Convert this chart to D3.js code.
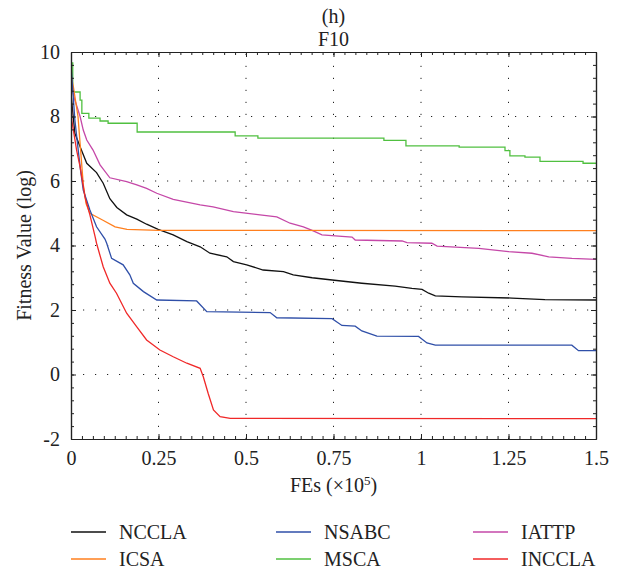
<!DOCTYPE html>
<html><head><meta charset="utf-8">
<script src="https://cdn.jsdelivr.net/npm/d3@7"></script>
<style>
html,body{margin:0;padding:0;background:#fff;}
text{font-family:"Liberation Serif","Times New Roman",serif;fill:#222;}
</style></head>
<body><svg id="chart" width="624" height="573"></svg>
<script>
const seriesNames = ["NCCLA","NSABC","IATTP","ICSA","MSCA","INCCLA"];
const seriesColors = ["#111111","#2f4fa8","#c548a8","#ff7f1e","#50c040","#f02828"];
const xTicks = [0,0.25,0.5,0.75,1,1.25,1.5];
const xTickLabels = ["0","0.25","0.5","0.75","1","1.25","1.5"];
const yTicks = [-2,0,2,4,6,8,10];
const yTickLabels = ["-2","0","2","4","6","8","10"];

const NCCLA = [[0,8.7],[0.011,7.48],[0.026,7.06],[0.045,6.55],[0.073,6.26],[0.092,5.93],[0.111,5.45],[0.131,5.18],[0.159,4.95],[0.188,4.82],[0.216,4.66],[0.249,4.5],[0.292,4.33],[0.331,4.12],[0.369,3.96],[0.397,3.76],[0.445,3.65],[0.464,3.5],[0.502,3.4],[0.549,3.24],[0.607,3.19],[0.635,3.09],[0.689,3.0],[0.746,2.93],[0.831,2.83],[0.926,2.74],[0.974,2.67],[1.003,2.64],[1.022,2.52],[1.041,2.44],[1.117,2.41],[1.26,2.37],[1.354,2.32],[1.5,2.31]];
const NSABC = [[0,9.6],[0.011,7.9],[0.026,6.44],[0.035,5.72],[0.054,5.1],[0.073,4.58],[0.097,4.2],[0.102,4.07],[0.116,3.6],[0.149,3.4],[0.168,3.09],[0.178,2.83],[0.207,2.57],[0.245,2.31],[0.359,2.28],[0.388,1.95],[0.569,1.92],[0.588,1.76],[0.746,1.73],[0.774,1.52],[0.812,1.5],[0.831,1.35],[0.874,1.19],[0.993,1.18],[1.017,0.98],[1.041,0.91],[1.431,0.91],[1.45,0.74],[1.5,0.74]];
const IATTP = [[0,9.0],[0.011,8.51],[0.026,8.0],[0.035,7.58],[0.045,7.27],[0.063,6.96],[0.083,6.5],[0.111,6.1],[0.159,5.98],[0.188,5.88],[0.216,5.77],[0.245,5.62],[0.292,5.43],[0.369,5.26],[0.406,5.2],[0.464,5.05],[0.54,4.95],[0.588,4.89],[0.626,4.69],[0.664,4.58],[0.689,4.47],[0.717,4.33],[0.755,4.3],[0.803,4.26],[0.812,4.17],[0.946,4.14],[0.96,4.09],[1.031,4.07],[1.046,3.98],[1.165,3.91],[1.25,3.81],[1.317,3.76],[1.365,3.65],[1.431,3.6],[1.5,3.57]];
const ICSA = [[0,9.3],[0.007,8.9],[0.02,8.0],[0.035,5.9],[0.043,5.3],[0.054,5.0],[0.09,4.79],[0.126,4.58],[0.16,4.5],[0.25,4.47],[1.5,4.46]];
const MSCA = [[0,9.66],[0.005,8.76],[0.026,8.51],[0.031,8.1],[0.051,7.95],[0.083,7.86],[0.106,7.79],[0.189,7.52],[0.469,7.4],[0.534,7.33],[0.894,7.26],[0.957,7.09],[1.109,7.05],[1.24,6.94],[1.254,6.78],[1.297,6.74],[1.34,6.61],[1.463,6.55],[1.5,6.55]];
const INCCLA = [[0,9.35],[0.002,7.9],[0.016,6.96],[0.026,6.44],[0.04,5.5],[0.054,4.95],[0.069,4.27],[0.073,4.07],[0.092,3.34],[0.111,2.83],[0.13,2.52],[0.159,1.9],[0.188,1.48],[0.216,1.07],[0.254,0.76],[0.292,0.55],[0.331,0.35],[0.369,0.19],[0.378,-0.07],[0.392,-0.59],[0.407,-1.1],[0.426,-1.31],[0.455,-1.36],[1.5,-1.37]];
const seriesData = [NCCLA,NSABC,IATTP,ICSA,MSCA,INCCLA];
const stepSeries = [false,false,false,false,true,false];

const svg = d3.select("#chart");
const L=71, R=596, T=52, B=439;
const x = d3.scaleLinear().domain([0,1.5]).range([L,R]);
const y = d3.scaleLinear().domain([-2,10]).range([B,T]);

// grid
const g = svg.append("g");
g.selectAll(".vg").data(xTicks.slice(1,-1)).enter().append("line")
 .attr("x1",d=>x(d)).attr("x2",d=>x(d)).attr("y1",B).attr("y2",T)
 .attr("stroke","#222").attr("stroke-width",1).attr("stroke-dasharray","1.2,10.8");
g.selectAll(".hg").data(yTicks.slice(1,-1)).enter().append("line")
 .attr("x1",L).attr("x2",R).attr("y1",d=>y(d)).attr("y2",d=>y(d))
 .attr("stroke","#222").attr("stroke-width",1).attr("stroke-dasharray","1.2,10.8");

// lines
svg.append("clipPath").attr("id","clip").append("rect").attr("x",L).attr("y",T).attr("width",R-L).attr("height",B-T);
const drawOrder = [4,2,0,3,1,5];
drawOrder.forEach(i=>{
  const line = d3.line().x(d=>x(d[0])).y(d=>y(d[1])).curve(stepSeries[i]?d3.curveStepAfter:d3.curveLinear);
  svg.append("path").datum(seriesData[i]).attr("d",line).attr("fill","none")
   .attr("stroke",seriesColors[i]).attr("stroke-width",1.3).attr("clip-path","url(#clip)");
});

// axes (ticks inside, mirrored)
const xMinor = d3.range(0,1.5001,0.25/8);
const yMinor = d3.range(-2,10.001,0.4);
function axisGroup(axis, tr){ const a=svg.append("g").attr("transform",tr).call(axis); a.selectAll("path,line").attr("stroke","#222"); a.select(".domain").attr("stroke-width",1.2); return a; }
const fs = 20;
const xb = axisGroup(d3.axisBottom(x).tickValues(xTicks).tickFormat((d,i)=>xTickLabels[i]).tickSizeInner(-5).tickSizeOuter(0).tickPadding(12), `translate(0,${B})`);
xb.selectAll("text").attr("font-size",fs).attr("font-family","Liberation Serif").attr("fill","#222");
axisGroup(d3.axisBottom(x).tickValues(xMinor).tickFormat("").tickSizeInner(-3).tickSizeOuter(0), `translate(0,${B})`);
axisGroup(d3.axisTop(x).tickValues(xTicks).tickFormat("").tickSizeInner(-5).tickSizeOuter(0), `translate(0,${T})`);
axisGroup(d3.axisTop(x).tickValues(xMinor).tickFormat("").tickSizeInner(-3).tickSizeOuter(0), `translate(0,${T})`);
const yl = axisGroup(d3.axisLeft(y).tickValues(yTicks).tickFormat((d,i)=>yTickLabels[i]).tickSizeInner(-5).tickSizeOuter(0).tickPadding(11), `translate(${L},0)`);
yl.selectAll("text").attr("font-size",fs).attr("font-family","Liberation Serif").attr("fill","#222");
axisGroup(d3.axisLeft(y).tickValues(yMinor).tickFormat("").tickSizeInner(-3).tickSizeOuter(0), `translate(${L},0)`);
axisGroup(d3.axisRight(y).tickValues(yTicks).tickFormat("").tickSizeInner(-5).tickSizeOuter(0), `translate(${R},0)`);
axisGroup(d3.axisRight(y).tickValues(yMinor).tickFormat("").tickSizeInner(-3).tickSizeOuter(0), `translate(${R},0)`);

// titles
svg.append("text").attr("x",(L+R)/2).attr("y",23).attr("text-anchor","middle").attr("font-size",fs).text("(h)");
svg.append("text").attr("x",(L+R)/2).attr("y",46).attr("text-anchor","middle").attr("font-size",fs).text("F10");
const xl = svg.append("text").attr("x",(L+R)/2).attr("y",492).attr("text-anchor","middle").attr("font-size",fs);
xl.append("tspan").text("FEs (×10");
xl.append("tspan").attr("dy",-7).attr("font-size",13).text("5");
xl.append("tspan").attr("dy",7).text(")");
svg.append("text").attr("transform",`translate(31,${(T+B)/2}) rotate(-90)`).attr("text-anchor","middle").attr("font-size",fs).text("Fitness Value (log)");

// legend
const legX = [71,276,473];
const legY = [532,559];
seriesNames.forEach((n,i)=>{
  const cx = legX[i%3], cy = legY[Math.floor(i/3)];
  svg.append("line").attr("x1",cx).attr("x2",cx+35).attr("y1",cy).attr("y2",cy).attr("stroke",seriesColors[i]).attr("stroke-width",1.4);
  svg.append("text").attr("x",cx+48).attr("y",cy+7).attr("font-size",fs).text(n);
});
</script></body></html>
